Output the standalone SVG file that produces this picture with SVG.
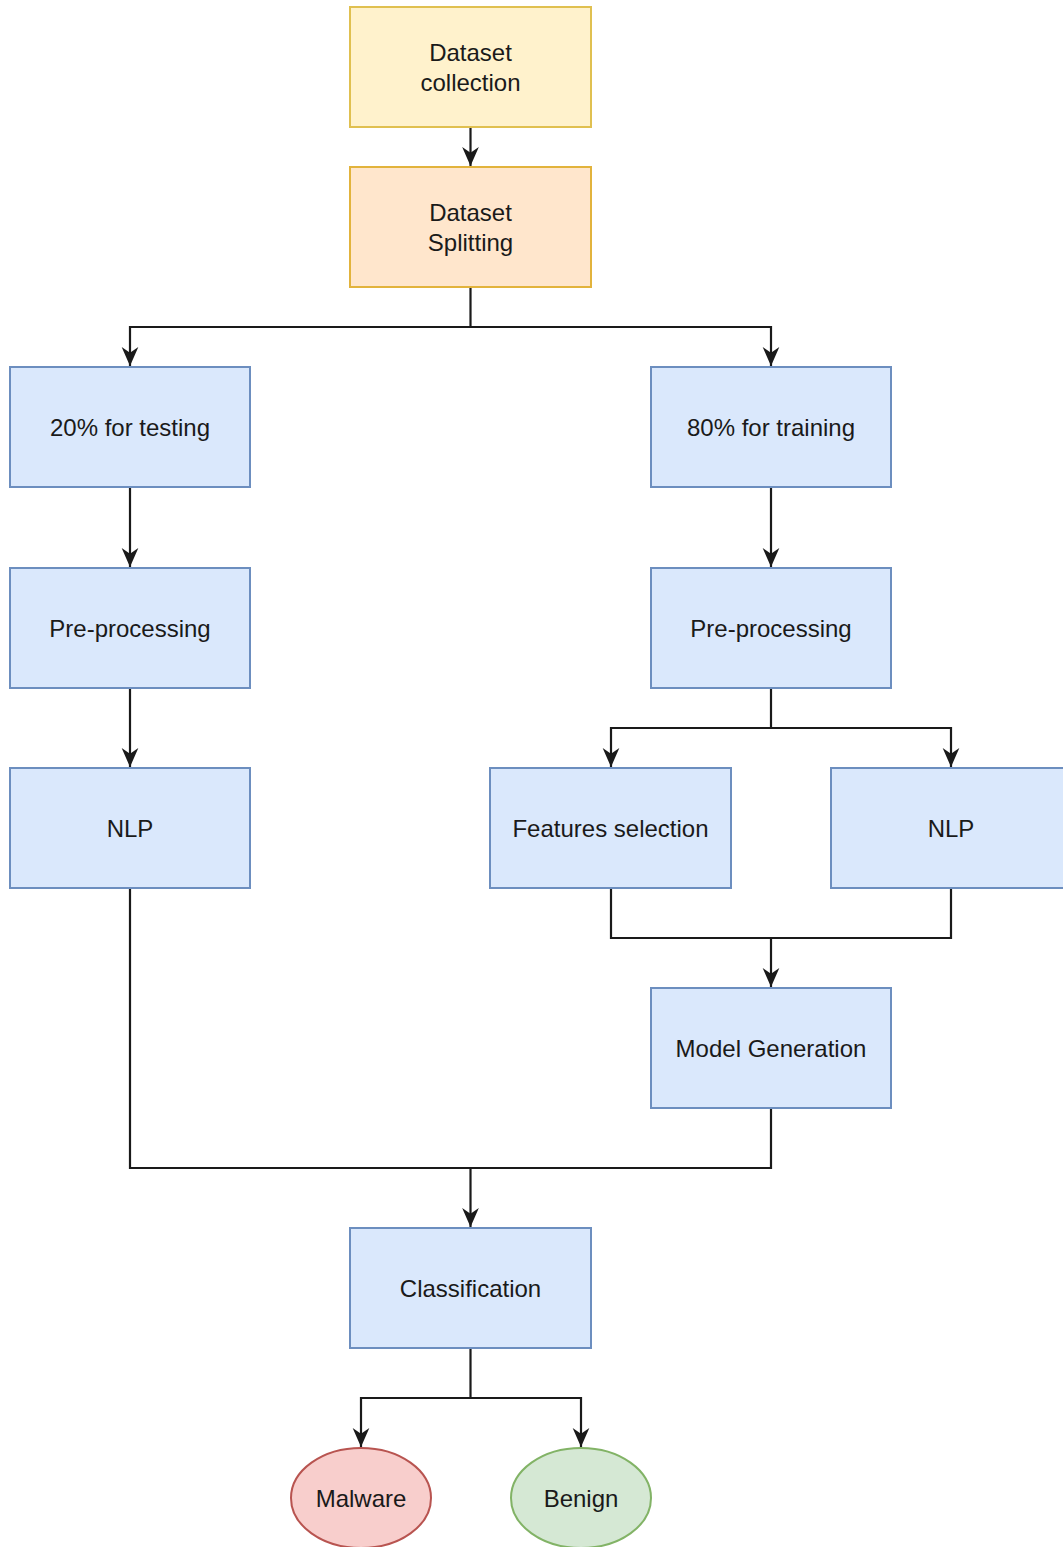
<svg xmlns="http://www.w3.org/2000/svg" width="1063" height="1547" viewBox="0 0 1063 1547">
<style>
.t{font-family:"Liberation Sans",Arial,Helvetica,sans-serif;font-size:24px;fill:#1a1a1a;text-anchor:middle;dominant-baseline:central}
.blue{fill:#dae8fc;stroke:#6c8ebf;stroke-width:2}
.yel{fill:#fff2cc;stroke:#e0c050;stroke-width:2}
.org{fill:#ffe6cc;stroke:#e2b33c;stroke-width:2}
.red{fill:#f8cecc;stroke:#b85450;stroke-width:2}
.grn{fill:#d5e8d4;stroke:#82b366;stroke-width:2}
.c{fill:none;stroke:#1a1a1a;stroke-width:2.2}
</style>
<defs>
<marker id="arr" markerWidth="20" markerHeight="20" viewBox="0 0 18 16" refX="17" refY="8" orient="auto" markerUnits="userSpaceOnUse">
<path d="M0,0.5 L17,8 L0,15.5 L5,8 Z" fill="#1a1a1a"/>
</marker>
</defs>
<rect width="1063" height="1547" fill="#ffffff"/>
<g id="connectors">
<path class="c" d="M470.5,127 V166" marker-end="url(#arr)"/>
<path class="c" d="M470.5,287 V327 H130 V366" marker-end="url(#arr)"/>
<path class="c" d="M470.5,327 H771 V366" marker-end="url(#arr)"/>
<path class="c" d="M130,487 V567" marker-end="url(#arr)"/>
<path class="c" d="M771,487 V567" marker-end="url(#arr)"/>
<path class="c" d="M130,688 V767" marker-end="url(#arr)"/>
<path class="c" d="M771,688 V728 H611 V767" marker-end="url(#arr)"/>
<path class="c" d="M771,728 H951 V767" marker-end="url(#arr)"/>
<path class="c" d="M611,888 V938 H951 V888"/>
<path class="c" d="M771,938 V987" marker-end="url(#arr)"/>
<path class="c" d="M130,888 V1168 H771 V1108"/>
<path class="c" d="M470.5,1168 V1227" marker-end="url(#arr)"/>
<path class="c" d="M470.5,1348 V1398 H361 V1447" marker-end="url(#arr)"/>
<path class="c" d="M470.5,1398 H581 V1447" marker-end="url(#arr)"/>
</g>
<g id="dataset-collection"><rect class="yel" x="350" y="7" width="241" height="120"/><text class="t" x="470.5" y="52">Dataset</text><text class="t" x="470.5" y="82">collection</text></g>
<g id="dataset-splitting"><rect class="org" x="350" y="167" width="241" height="120"/><text class="t" x="470.5" y="212">Dataset</text><text class="t" x="470.5" y="242">Splitting</text></g>
<g id="testing"><rect class="blue" x="10" y="367" width="240" height="120"/><text class="t" x="130" y="427">20% for testing</text></g>
<g id="training"><rect class="blue" x="651" y="367" width="240" height="120"/><text class="t" x="771" y="427">80% for training</text></g>
<g id="preproc-left"><rect class="blue" x="10" y="568" width="240" height="120"/><text class="t" x="130" y="628">Pre-processing</text></g>
<g id="preproc-right"><rect class="blue" x="651" y="568" width="240" height="120"/><text class="t" x="771" y="628">Pre-processing</text></g>
<g id="nlp-left"><rect class="blue" x="10" y="768" width="240" height="120"/><text class="t" x="130" y="828">NLP</text></g>
<g id="features"><rect class="blue" x="490" y="768" width="241" height="120"/><text class="t" x="610.5" y="828">Features selection</text></g>
<g id="nlp-right"><rect class="blue" x="831" y="768" width="241" height="120"/><text class="t" x="951" y="828">NLP</text></g>
<g id="model"><rect class="blue" x="651" y="988" width="240" height="120"/><text class="t" x="771" y="1048">Model Generation</text></g>
<g id="classification"><rect class="blue" x="350" y="1228" width="241" height="120"/><text class="t" x="470.5" y="1288">Classification</text></g>
<g id="malware"><ellipse class="red" cx="361" cy="1498" rx="70" ry="50"/><text class="t" x="361" y="1498">Malware</text></g>
<g id="benign"><ellipse class="grn" cx="581" cy="1498" rx="70" ry="50"/><text class="t" x="581" y="1498">Benign</text></g>
</svg>
